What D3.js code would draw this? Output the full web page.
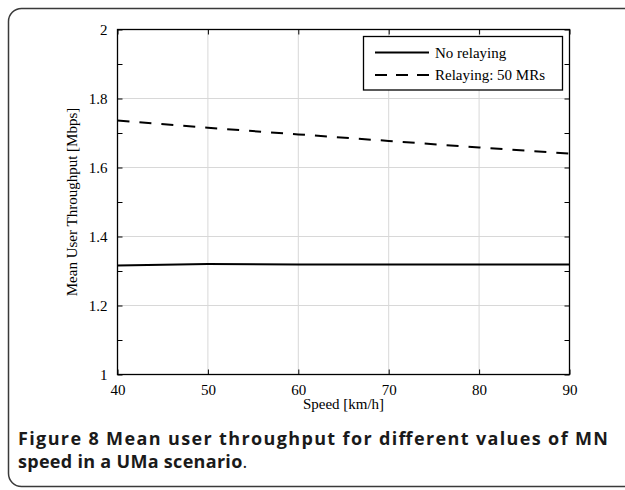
<!DOCTYPE html>
<html><head><meta charset="utf-8">
<script src="https://cdn.jsdelivr.net/npm/d3@7"></script>
<style>body{margin:0;background:#fff}svg{display:block}</style>
</head><body>
<svg id="c" width="625" height="490"></svg>
<script>
const speeds = [40, 50, 60, 70, 80, 90];
const noRelaying = [1.316, 1.320, 1.319, 1.319, 1.319, 1.319];
const relaying50 = [1.736, 1.715, 1.696, 1.677, 1.658, 1.640];
const xTicks = [40, 50, 60, 70, 80, 90];
const yTicks = [1, 1.2, 1.4, 1.6, 1.8, 2];
const yMinorTicks = [1.1, 1.3, 1.5, 1.7, 1.9];
const seriesNames = ["No relaying", "Relaying: 50 MRs"];

const svg = d3.select("#c");
const serif = "'Liberation Serif', 'DejaVu Serif', serif";
const fs = 15;
const m = {l:117.5, r:569.5, t:29.5, b:374.5};
const x = d3.scaleLinear().domain([40,90]).range([m.l, m.r]);
const y = d3.scaleLinear().domain([1,2]).range([m.b, m.t]);

// frame
svg.append("rect").attr("x",8.5).attr("y",8.5).attr("width",660).attr("height",478)
  .attr("rx",13).attr("fill","none").attr("stroke","#3a3a3a").attr("stroke-width",1.5);

// grid
const g = svg.append("g");
g.selectAll(".gx").data(xTicks.slice(1,-1)).join("line")
  .attr("x1",d=>x(d)).attr("x2",d=>x(d)).attr("y1",m.t).attr("y2",m.b)
  .attr("stroke","#d8d8d8").attr("stroke-width",1);
g.selectAll(".gy").data(yTicks.slice(1,-1)).join("line")
  .attr("y1",d=>y(d)).attr("y2",d=>y(d)).attr("x1",m.l).attr("x2",m.r)
  .attr("stroke","#d8d8d8").attr("stroke-width",1);

// axes
const tl = 5;
const allY = yTicks.concat(yMinorTicks);
const axB = svg.append("g").attr("transform",`translate(0,${m.b})`)
  .call(d3.axisBottom(x).tickValues(xTicks).tickSize(-tl).tickPadding(10).tickFormat(d3.format("d")));
const axT = svg.append("g").attr("transform",`translate(0,${m.t})`)
  .call(d3.axisTop(x).tickValues(xTicks).tickSize(-tl).tickFormat(""));
const axL = svg.append("g").attr("transform",`translate(${m.l},0)`)
  .call(d3.axisLeft(y).tickValues(allY).tickSize(-tl).tickPadding(10)
    .tickFormat(d=> yTicks.includes(d) ? d3.format("~g")(d) : ""));
const axR = svg.append("g").attr("transform",`translate(${m.r},0)`)
  .call(d3.axisRight(y).tickValues(allY).tickSize(-tl).tickFormat(""));
[axB,axT,axL,axR].forEach(a=>{
  a.select(".domain").remove();
  a.selectAll(".tick line").attr("stroke","#000").attr("stroke-width",1);
  a.selectAll("text").attr("font-family",serif).attr("font-size",fs).attr("fill","#000");
});
svg.append("rect").attr("x",m.l).attr("y",m.t).attr("width",m.r-m.l).attr("height",m.b-m.t)
  .attr("fill","none").attr("stroke","#000").attr("stroke-width",1.3);

// lines
const line = d3.line().x((d,i)=>x(speeds[i])).y(d=>y(d));
svg.append("path").datum(noRelaying).attr("d",line).attr("fill","none")
  .attr("stroke","#000").attr("stroke-width",2);
svg.append("path").datum(relaying50).attr("d",line).attr("fill","none")
  .attr("stroke","#000").attr("stroke-width",2).attr("stroke-dasharray","12,10");

// legend
const lg = svg.append("g");
lg.append("rect").attr("x",363.5).attr("y",36.5).attr("width",199).attr("height",53.5)
  .attr("fill","#fff").attr("stroke","#000").attr("stroke-width",1.3);
const dashes = [null, "12,9"];
seriesNames.forEach((n,i)=>{
  const yy = 52.5 + i*22.5;
  lg.append("line").attr("x1",375).attr("x2",429).attr("y1",yy).attr("y2",yy)
    .attr("stroke","#000").attr("stroke-width",2).attr("stroke-dasharray",dashes[i]);
  lg.append("text").attr("x",435).attr("y",yy).attr("dy","0.35em")
    .attr("font-family",serif).attr("font-size",fs).text(n);
});

// axis titles
svg.append("text").attr("x",(m.l+m.r)/2).attr("y",409).attr("text-anchor","middle")
  .attr("font-family",serif).attr("font-size",fs).text("Speed [km/h]");
svg.append("text").attr("transform",`translate(77,${(m.t+m.b)/2}) rotate(-90)`)
  .attr("text-anchor","middle").attr("font-family",serif).attr("font-size",fs)
  .text("Mean User Throughput [Mbps]");

// caption
const capFont = "'Open Sans', sans-serif";
svg.append("text").attr("x",18).attr("y",445).attr("font-family",capFont).attr("font-size",18)
  .attr("font-weight","bold").attr("fill","#1a1a1a")
  .attr("textLength",590).attr("lengthAdjust","spacing")
  .text("Figure 8 Mean user throughput for different values of MN");
const c2 = svg.append("text").attr("x",18).attr("y",468).attr("font-family",capFont).attr("font-size",18)
  .attr("fill","#1a1a1a").attr("letter-spacing",0.3);
c2.append("tspan").attr("font-weight","bold").text("speed in a UMa scenario");
c2.append("tspan").attr("font-weight","normal").text(".");
</script>
</body></html>
